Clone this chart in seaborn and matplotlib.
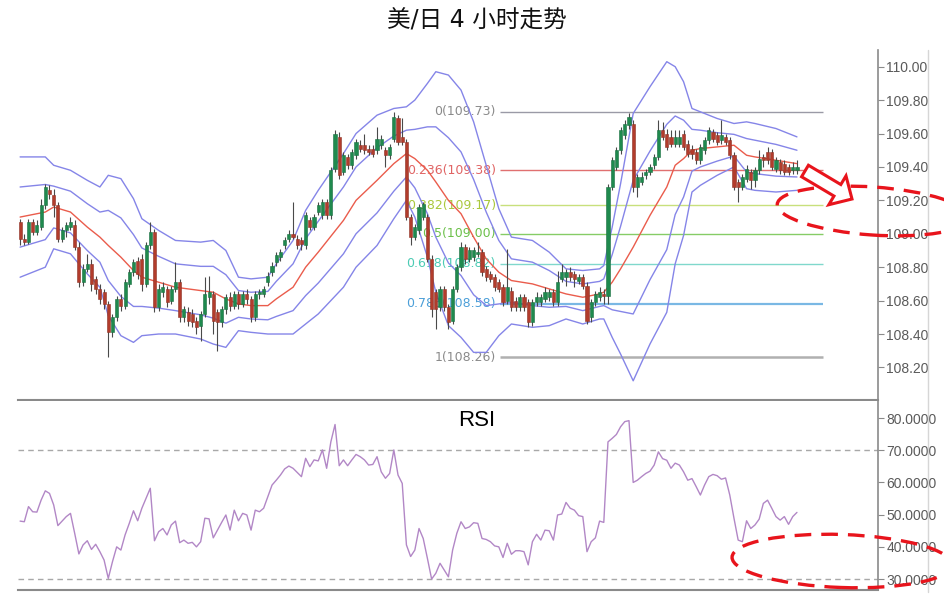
import numpy as np
import pandas as pd
import matplotlib
matplotlib.use("Agg")
import matplotlib.pyplot as plt
import seaborn as sns
from matplotlib.patches import Ellipse, Polygon
from matplotlib.lines import Line2D

# ---------------- data ----------------
opens = [109.07,108.97,108.95,109.07,109.01,109.04,109.17,109.26,109.23,109.17,
         108.97,109.02,109.04,109.05,108.92,108.71,108.79,108.82,108.73,108.67,
         108.65,108.58,108.41,108.50,108.61,108.57,108.70,108.77,108.84,108.85,
         108.70,108.93,109.01,108.56,108.65,108.67,108.60,108.67,108.71,108.50,
         108.53,108.52,108.48,108.45,108.52,108.62,108.64,108.53,108.47,108.55,
         108.62,108.57,108.64,108.58,108.64,108.61,108.50,108.64,108.64,108.71,
         108.77,108.83,108.86,108.93,108.97,109.00,108.97,108.96,108.93,109.08,
         109.04,109.13,109.11,109.19,109.11,109.39,109.58,109.37,109.46,109.41,
         109.47,109.53,109.53,109.51,109.51,109.50,109.53,109.50,109.47,109.57,
         109.69,109.58,109.55,109.10,108.98,109.02,109.10,109.10,108.85,108.65,
         108.56,108.67,108.56,108.48,108.67,108.80,108.92,108.85,108.86,108.88,
         108.89,108.79,108.76,108.74,108.71,108.68,108.60,108.66,108.60,108.56,
         108.62,108.59,108.47,108.59,108.59,108.61,108.62,108.65,108.59,108.73,
         108.74,108.77,108.76,108.72,108.74,108.69,108.50,108.59,108.62,108.64,
         108.63,109.28,109.40,109.50,109.59,109.65,109.66,109.28,109.31,109.35,
         109.37,109.41,109.46,109.62,109.60,109.58,109.54,109.54,109.60,109.54,
         109.51,109.49,109.44,109.50,109.56,109.61,109.59,109.56,109.58,109.56,
         109.47,109.31,109.28,109.33,109.37,109.32,109.38,109.46,109.49,109.49,
         109.39,109.43,109.42,109.40,109.38,109.38]
closes = [108.97,108.95,109.07,109.01,109.05,109.17,109.28,109.24,109.17,108.97,
          109.02,109.05,109.07,108.92,108.71,108.79,108.82,108.70,108.67,108.61,
          108.58,108.41,108.50,108.61,108.57,108.71,108.77,108.83,108.76,108.70,
          108.93,109.01,108.56,108.67,108.68,108.59,108.67,108.71,108.50,108.55,
          108.48,108.47,108.44,108.52,108.64,108.65,108.48,108.47,108.55,108.62,
          108.57,108.64,108.58,108.64,108.61,108.50,108.64,108.65,108.67,108.75,
          108.81,108.87,108.89,108.96,109.00,108.98,108.93,108.94,109.11,109.04,
          109.10,109.17,109.19,109.11,109.38,109.60,109.35,109.47,109.41,109.49,
          109.55,109.51,109.50,109.49,109.48,109.57,109.57,109.47,109.52,109.70,
          109.55,109.55,109.10,108.98,109.04,109.16,109.18,108.85,108.55,108.55,
          108.67,108.56,108.47,108.67,108.80,108.92,108.85,108.90,108.90,108.89,
          108.77,108.74,108.73,108.68,108.67,108.59,108.68,108.56,108.56,108.62,
          108.56,108.47,108.59,108.62,108.62,108.65,108.65,108.59,108.71,108.77,
          108.77,108.74,108.73,108.74,108.69,108.48,108.59,108.64,108.65,108.63,
          109.28,109.44,109.50,109.62,109.66,109.70,109.28,109.34,109.34,109.37,
          109.40,109.46,109.62,109.58,109.52,109.54,109.58,109.58,109.52,109.48,
          109.48,109.44,109.52,109.56,109.62,109.57,109.55,109.59,109.55,109.47,
          109.28,109.28,109.34,109.39,109.32,109.38,109.45,109.44,109.44,109.40,
          109.44,109.38,109.37,109.37,109.40,109.40]
highs = [109.09,109.00,109.09,109.09,109.08,109.21,109.30,109.29,109.27,109.19,
         109.04,109.07,109.10,109.08,108.95,108.82,108.88,108.85,108.75,108.70,
         108.67,108.60,108.52,108.63,108.64,108.73,108.79,108.85,108.86,108.88,
         108.95,109.07,109.03,108.70,108.71,108.69,108.69,108.83,108.73,108.57,
         108.56,108.55,108.50,108.54,108.74,108.75,108.66,108.55,108.57,108.64,
         108.65,108.66,108.66,108.66,108.67,108.63,108.66,108.67,108.69,108.77,
         108.83,108.89,108.91,108.98,109.02,109.19,108.99,108.98,109.13,109.10,
         109.12,109.19,109.21,109.21,109.40,109.62,109.61,109.49,109.48,109.51,
         109.57,109.56,109.60,109.53,109.53,109.64,109.59,109.52,109.54,109.73,
         109.71,109.69,109.57,109.12,109.06,109.18,109.19,109.12,108.87,108.67,
         108.69,108.69,108.58,108.69,108.82,108.95,108.94,108.92,108.92,108.95,
         108.91,108.81,108.78,108.76,108.73,108.70,108.91,108.68,108.62,108.64,
         108.64,108.61,108.61,108.65,108.64,108.68,108.67,108.67,108.78,108.82,
         108.79,108.80,108.78,108.76,108.76,108.71,108.61,108.66,108.68,108.67,
         109.30,109.46,109.52,109.64,109.68,109.72,109.68,109.36,109.37,109.39,
         109.42,109.48,109.68,109.67,109.63,109.62,109.62,109.62,109.62,109.56,
         109.53,109.51,109.54,109.58,109.64,109.63,109.61,109.68,109.60,109.58,
         109.49,109.33,109.36,109.41,109.39,109.40,109.50,109.48,109.52,109.51,
         109.46,109.45,109.44,109.42,109.43,109.44]
lows = [108.93,108.93,108.94,108.99,108.99,109.02,109.15,109.21,109.10,108.95,
        108.95,108.98,109.02,108.90,108.68,108.69,108.77,108.66,108.64,108.58,
        108.55,108.26,108.38,108.48,108.54,108.55,108.68,108.75,108.73,108.66,
        108.68,108.91,108.53,108.54,108.62,108.56,108.58,108.65,108.47,108.47,
        108.45,108.44,108.40,108.36,108.50,108.58,108.40,108.30,108.44,108.52,
        108.54,108.55,108.55,108.56,108.58,108.47,108.48,108.61,108.62,108.69,
        108.75,108.81,108.84,108.91,108.95,108.97,108.91,108.90,108.91,109.02,
        109.02,109.11,109.09,109.09,109.09,109.37,109.33,109.35,109.39,109.39,
        109.45,109.49,109.48,109.47,109.46,109.48,109.51,109.40,109.45,109.55,
        109.53,109.53,109.08,108.93,108.96,109.00,109.08,108.83,108.50,108.43,
        108.54,108.54,108.43,108.46,108.65,108.78,108.82,108.83,108.84,108.86,
        108.75,108.72,108.71,108.66,108.65,108.57,108.58,108.54,108.54,108.54,
        108.54,108.44,108.45,108.57,108.57,108.59,108.60,108.57,108.57,108.71,
        108.69,108.72,108.68,108.70,108.67,108.46,108.47,108.57,108.60,108.58,
        108.58,109.26,109.38,109.48,109.57,109.63,109.25,109.22,109.29,109.33,
        109.35,109.39,109.44,109.56,109.50,109.52,109.52,109.52,109.50,109.46,
        109.45,109.42,109.42,109.48,109.54,109.55,109.53,109.54,109.53,109.45,
        109.26,109.19,109.26,109.31,109.27,109.28,109.36,109.40,109.42,109.38,
        109.37,109.36,109.35,109.35,109.36,109.36]
rsi = [48.0,47.8,52.5,50.9,50.8,54.5,57.4,56.6,53.0,46.6,
       48.0,49.4,50.4,44.2,37.8,40.6,41.9,39.2,40.8,38.5,
       35.9,30.2,35.4,40.0,39.0,43.7,47.3,51.2,48.1,52.0,
       55.1,58.2,41.9,44.7,45.7,43.7,46.8,48.0,41.3,42.1,
       41.1,41.4,40.0,41.6,48.9,48.7,42.8,45.2,47.6,49.9,
       45.2,51.4,48.1,50.4,49.9,45.2,51.4,50.9,52.0,55.6,
       59.2,60.7,62.3,64.2,65.1,64.4,63.1,61.8,67.5,64.9,
       67.0,66.7,70.1,64.4,72.6,78.0,65.2,67.0,65.2,67.0,
       68.7,68.0,67.0,65.4,65.6,68.0,63.3,61.3,62.8,70.1,
       62.3,59.7,40.6,37.0,39.0,45.7,42.6,36.4,30.0,31.8,
       34.9,32.8,30.7,39.0,44.2,47.8,45.7,46.2,47.5,47.3,
       42.6,42.3,41.6,40.3,40.0,36.7,41.1,37.7,38.8,38.8,
       38.5,34.4,41.6,43.9,42.1,45.2,45.0,42.1,49.9,50.2,
       53.8,52.0,51.4,49.7,49.4,38.5,41.6,42.8,48.0,47.6,
       72.6,73.7,74.9,77.3,78.9,79.2,60.0,60.7,61.8,62.8,
       63.5,65.4,69.5,67.4,66.9,64.4,66.0,65.4,63.3,60.7,
       61.2,58.7,56.1,59.2,61.8,62.5,62.1,61.0,61.4,56.1,
       48.9,42.1,41.6,48.1,45.7,46.8,48.6,53.5,54.5,52.0,
       49.4,48.3,49.4,47.0,49.4,50.7]

# Bollinger bands read at knots: candle index, middle line, outer half-width (2 sigma)
band_idx = [0, 6, 8, 12, 16, 19, 21, 24, 27, 29, 33, 37, 43, 46, 49, 52, 55, 59, 61, 65,
            68, 71, 77, 80, 85, 89, 92, 94, 97, 99, 102, 105, 108, 111, 114, 117, 122, 126,
            130, 134, 138, 139, 141, 143, 146, 150, 154, 156, 158, 160, 162, 166, 170, 173,
            175, 180, 185]
band_mid = [109.10, 109.13, 109.16, 109.13, 109.04, 108.98, 108.93, 108.86, 108.78, 108.74,
            108.71, 108.68, 108.66, 108.65, 108.61, 108.58, 108.57, 108.57, 108.61, 108.68,
            108.80, 108.89, 109.08, 109.20, 109.32, 109.42, 109.48, 109.45, 109.38, 109.31,
            109.20, 109.12, 108.98, 108.85, 108.77, 108.72, 108.70, 108.67, 108.64, 108.62,
            108.64, 108.65, 108.71, 108.79, 108.92, 109.11, 109.28, 109.41, 109.45, 109.50,
            109.51, 109.52, 109.53, 109.47, 109.46, 109.44, 109.42]
band_width = [0.36, 0.33, 0.25, 0.25, 0.28, 0.30, 0.42, 0.47, 0.43, 0.35,
              0.31, 0.28, 0.29, 0.31, 0.29, 0.16, 0.16, 0.17, 0.21, 0.28,
              0.34, 0.37, 0.40, 0.40, 0.39, 0.33, 0.28, 0.35, 0.52, 0.66,
              0.75, 0.74, 0.69, 0.56, 0.38, 0.26, 0.26, 0.22, 0.15, 0.16,
              0.15, 0.16, 0.33, 0.51, 0.80, 0.77, 0.75, 0.59, 0.46, 0.25,
              0.22, 0.17, 0.13, 0.20, 0.20, 0.19, 0.16]

fib_ratios = ["0", "0.236", "0.382", "0.5", "0.618", "0.786", "1"]
fib_prices = [109.73, 109.38, 109.17, 109.00, 108.82, 108.58, 108.26]
fib_line_colors = ["#9a9aa6", "#e07070", "#c8e07c", "#86cc66", "#80d8cc", "#7ab8e4", "#b0b0b0"]
fib_text_colors = ["#8a8a8a", "#e06464", "#aac83c", "#6cc04a", "#4ccbb4", "#4c9fd8", "#8a8a8a"]
fib_widths = [1.0, 1.0, 1.0, 1.0, 1.0, 1.6, 1.8]

price_ticks = [108.20, 108.40, 108.60, 108.80, 109.00, 109.20, 109.40, 109.60, 109.80, 110.00]
rsi_ticks = [30, 40, 50, 60, 70, 80]
rsi_levels = [30, 70]

title = "美/日 4 小时走势"

# ---------------- figure ----------------
sns.set_theme(style="white")
plt.rcParams['font.family'] = ['Liberation Sans', 'DejaVu Sans']

W, H = 945, 601
fig = plt.figure(figsize=(W / 100, H / 100), dpi=100)
fig.patch.set_facecolor("white")

def frac(x0, y_top, x1, y_bot):
    return [x0 / W, 1 - y_bot / H, (x1 - x0) / W, (y_bot - y_top) / H]

ax = fig.add_axes(frac(18, 50, 878, 400))
ax2 = fig.add_axes(frac(18, 401, 878, 590))

df = pd.DataFrame({"i": np.arange(len(closes)), "open": opens, "high": highs,
                   "low": lows, "close": closes})
up = df["close"] >= df["open"]
green, red = "#1f8a4e", "#b23c2c"

# Bollinger bands (seaborn lines)
bands = pd.DataFrame({"i": band_idx, "mid": band_mid, "w": band_width})
band_blue = "#8585e8"
for k in (-1.0, -0.5, 0.5, 1.0):
    sns.lineplot(x=bands["i"], y=bands["mid"] + k * bands["w"], ax=ax, color=band_blue,
                 lw=1.0, zorder=2, estimator=None, sort=False)
sns.lineplot(x=bands["i"], y=bands["mid"], ax=ax, color="#ea5c4c", lw=1.0, zorder=2,
             estimator=None, sort=False)

# Fibonacci levels
x_lab, x0f, x1f = 113.3, 114.3, 191.2
for r, p, lc, tc, lw in zip(fib_ratios, fib_prices, fib_line_colors, fib_text_colors, fib_widths):
    ax.hlines(p, x0f, x1f, color=lc, lw=lw, zorder=1)
    ax.text(x_lab, p, f"{r}({p:.2f})", ha="right", va="center", color=tc,
            fontsize=9, family=["DejaVu Sans"], zorder=1)

# Candles
ax.vlines(df["i"], df["low"], df["high"], color="#4a4a4a", lw=0.8, zorder=3)
body = (df["close"] - df["open"]).abs().clip(lower=0.006)
ax.bar(df["i"], body, bottom=np.minimum(df["open"], df["close"]), width=0.74,
       color=np.where(up, green, red), edgecolor=np.where(up, "#1a6e40", "#8e3326"),
       lw=0.4, zorder=4)

ax.set_xlim(-0.5, 204.3)
ax.set_ylim(108.005, 110.10)
ax.set_yticks(price_ticks)
ax.set_yticklabels([f"{t:.2f}" for t in price_ticks])

# RSI panel
sns.lineplot(x=np.arange(len(rsi)), y=rsi, ax=ax2, color="#b287c6", lw=1.0,
             estimator=None, sort=False)
for lv in rsi_levels:
    ax2.axhline(lv, color="#a8a8a8", lw=1.0, ls=(0, (4, 3)), zorder=1)
ax2.set_xlim(-0.5, 204.3)
ax2.set_ylim(26.6, 85.3)
ax2.set_yticks(rsi_ticks)
ax2.set_yticklabels([f"{t:.4f}" for t in rsi_ticks])

for a in (ax, ax2):
    a.set_xlabel("")
    a.set_ylabel("")
    a.set_xticks([])
    a.yaxis.set_ticks_position("right")
    a.tick_params(axis="y", which="both", right=True, left=False, length=4, width=0.8,
                  color="#8a8a8a", labelcolor="#5a5a5a", labelsize=10, pad=2, direction="out")
    a.grid(False)
    a.set_facecolor("white")
    for s in ("top", "left"):
        a.spines[s].set_visible(False)
    a.spines["right"].set_color("#8a8a8a")
    a.spines["right"].set_linewidth(1.2)
    a.spines["bottom"].set_color("#8a8a8a")
    a.spines["bottom"].set_linewidth(1.5)

ax2.text(0.5045, 1 - 421 / H, "RSI", transform=fig.transFigure, ha="center", va="center",
         fontsize=16, color="black")

fig.text(0.505, 1 - 20 / H, title, ha="center", va="center", fontsize=17,
         family=["DejaVu Sans", "Noto Sans CJK SC"], color="#111111")

# light vertical border on the far right
px = fig.dpi_scale_trans
fig.add_artist(Line2D([928 / 100, 928 / 100], [(H - 50) / 100, (H - 592) / 100],
                      transform=px, color="#d6d6d6", lw=1.0))

# red dashed ellipses (annotations)
ann_red = "#e8141c"
fig.add_artist(Ellipse((873 / 100, (H - 211) / 100), 192 / 100, 48 / 100, angle=-4,
                       transform=px, fill=False, ec=ann_red, lw=2.4, ls=(0, (5, 3)), zorder=10))
fig.add_artist(Ellipse((842 / 100, (H - 561) / 100), 220 / 100, 53 / 100, angle=-2,
                       transform=px, fill=False, ec=ann_red, lw=2.4, ls=(0, (5, 3)), zorder=10))

# hollow block arrow (annotation), geometry in pixels
tail = np.array([805.0, 171.0])
tip = np.array([852.0, 199.0])
shaft_half, head_half, head_len = 6.7, 16.8, 17.0
u = (tip - tail) / np.linalg.norm(tip - tail)
nrm = np.array([-u[1], u[0]])
hb = tip - head_len * u
pts_px = [tail + shaft_half * nrm, hb + shaft_half * nrm, hb + head_half * nrm, tip,
          hb - head_half * nrm, hb - shaft_half * nrm, tail - shaft_half * nrm]
pts_in = [(p[0] / 100, (H - p[1]) / 100) for p in pts_px]
fig.add_artist(Polygon(pts_in, closed=True, transform=px, fc="white", ec=ann_red,
                       lw=2.2, joinstyle="miter", zorder=11))

fig.savefig("out.png", dpi=100, facecolor="white")
